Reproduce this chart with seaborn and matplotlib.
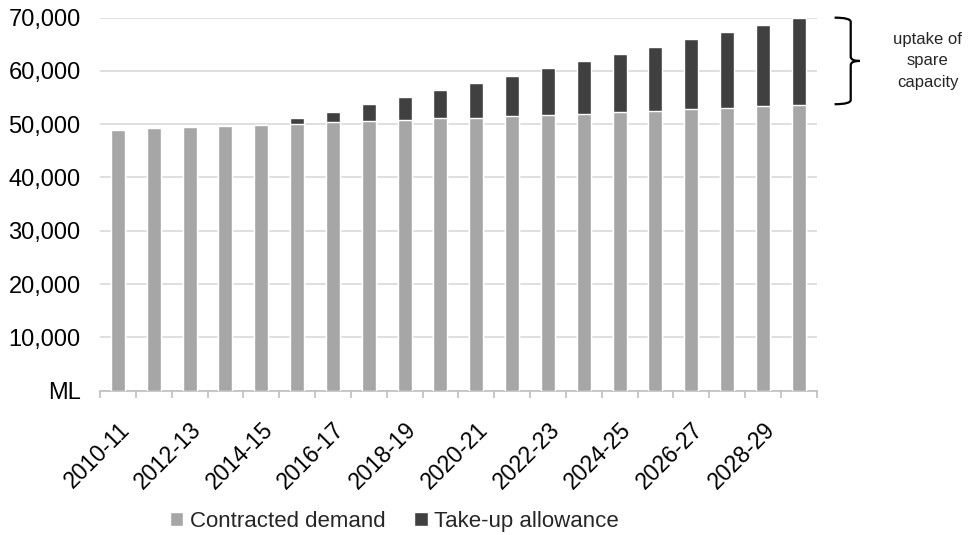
import numpy as np
import pandas as pd
import matplotlib
matplotlib.use("Agg")
import matplotlib.pyplot as plt
import seaborn as sns
from matplotlib.path import Path
from matplotlib.patches import PathPatch, Patch

years = ["2010-11", "2011-12", "2012-13", "2013-14", "2014-15", "2015-16",
         "2016-17", "2017-18", "2018-19", "2019-20", "2020-21", "2021-22",
         "2022-23", "2023-24", "2024-25", "2025-26", "2026-27", "2027-28",
         "2028-29", "2029-30"]
contracted = [49000, 49250, 49440, 49630, 49880, 50130, 50320, 50560, 50810, 51070,
              51250, 51500, 51690, 51940, 52380, 52570, 52810, 53060, 53440, 53690]
takeup = [0, 0, 0, 0, 0, 940, 2060, 3190, 4260, 5440,
          6570, 7630, 8810, 9940, 10880, 12000, 13140, 14260, 15260, 16310]

grey = "#a6a6a6"
dark = "#404040"

df = pd.DataFrame({"year": years, "contracted": contracted, "takeup": takeup})
df["total"] = df["contracted"] + df["takeup"]

sns.set_theme(style="white")
plt.rcParams["font.family"] = ["Liberation Sans", "DejaVu Sans"]

fig = plt.figure(figsize=(9.69, 5.35), dpi=100)
ax = fig.add_axes([0.1032, 0.270, 0.7396, 0.697])

sns.barplot(data=df, x="year", y="total", color=dark, width=0.39,
            saturation=1, ax=ax, zorder=2)
sns.barplot(data=df, x="year", y="contracted", color=grey, width=0.39,
            saturation=1, ax=ax, zorder=3)

ax.set_ylim(0, 70000)
ax.set_xlim(-0.5, len(years) - 0.5)
yt = np.arange(0, 70001, 10000)
ax.set_yticks(yt)
ax.set_yticklabels(["ML"] + [f"{v:,}" for v in yt[1:]], fontsize=17, color="#000000")
ax.yaxis.grid(True, color="#d9d9d9", linewidth=1.2, zorder=0)
ax.set_axisbelow(True)

ax.set_xticks(range(0, len(years), 2))
ax.set_xticklabels(years[::2], rotation=45, ha="right", rotation_mode="anchor",
                   fontsize=16.5, color="#000000")
ax.set_xticks(np.arange(-0.5, len(years)), minor=True)
ax.tick_params(axis="x", which="major", length=0, pad=20, bottom=True)
ax.tick_params(axis="x", which="minor", length=5, color="#bfbfbf", width=1.2,
               bottom=True)
ax.tick_params(axis="y", length=0, pad=14)

ax.set_xlabel("")
ax.set_ylabel("")
for s in ["left", "right", "top"]:
    ax.spines[s].set_visible(False)
ax.spines["bottom"].set_color("#bfbfbf")
ax.spines["bottom"].set_linewidth(1.2)

# curly brace marking the take-up part
x0, x1, xt = 20.0, 20.45, 20.7
ytop, ybot = 70000, 53750
ymid = (ytop + ybot) / 2
verts = [(x0, ytop), (x1, ytop), (x1, ytop - 800),
         (x1, ymid + 800), (x1, ymid), (xt, ymid),
         (x1, ymid), (x1, ymid - 800),
         (x1, ybot + 800), (x1, ybot), (x0, ybot)]
codes = [Path.MOVETO, Path.CURVE3, Path.CURVE3,
         Path.LINETO, Path.CURVE3, Path.CURVE3,
         Path.CURVE3, Path.CURVE3,
         Path.LINETO, Path.CURVE3, Path.CURVE3]
brace = PathPatch(Path(verts, codes), facecolor="none", edgecolor="#000000",
                  linewidth=1.6, clip_on=False)
ax.add_patch(brace)
ax.text(22.6, ymid, "uptake of\nspare\ncapacity", ha="center", va="center",
        fontsize=12, color="#262626", linespacing=1.55, clip_on=False)

handles = [Patch(facecolor=grey, label="Contracted demand"),
           Patch(facecolor=dark, label="Take-up allowance")]
fig.legend(handles=handles, loc="center", bbox_to_anchor=(0.407, 0.025),
           ncol=2, frameon=False, fontsize=16, handlelength=0.6,
           handleheight=0.6, handletextpad=0.3, columnspacing=1.3)

fig.savefig("out.png", dpi=100)
